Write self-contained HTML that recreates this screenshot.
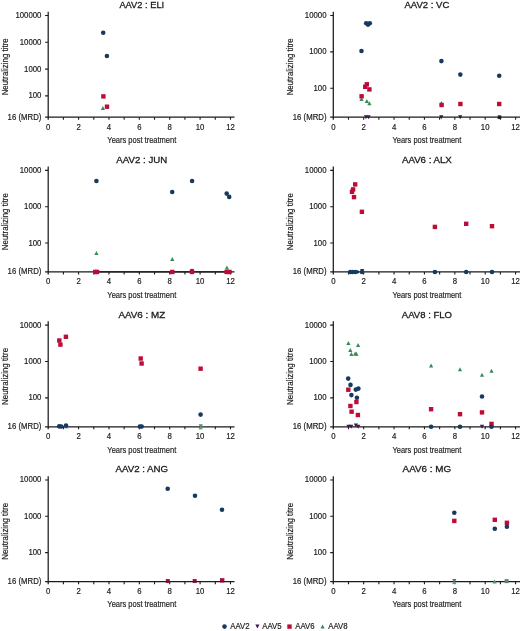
<!DOCTYPE html>
<html><head><meta charset="utf-8"><style>
html,body{margin:0;padding:0;background:#fff;}
body{width:520px;height:631px;overflow:hidden;}
svg{display:block;}
text{font-family:"Liberation Sans",sans-serif;fill:#1c1a1b;stroke:#1c1a1b;stroke-width:0.18px;}
svg{filter:blur(0.3px);}
.t{stroke-width:0.3px;}
</style></head><body>
<svg width="520" height="631" viewBox="0 0 520 631">
<text transform="translate(41.40 18.05) scale(0.94 1)" font-size="8.3" text-anchor="end" >100000</text>
<text transform="translate(41.40 44.82) scale(0.94 1)" font-size="8.3" text-anchor="end" >10000</text>
<text transform="translate(41.40 71.58) scale(0.94 1)" font-size="8.3" text-anchor="end" >1000</text>
<text transform="translate(41.40 98.35) scale(0.94 1)" font-size="8.3" text-anchor="end" >100</text>
<text transform="translate(41.40 119.65) scale(0.94 1)" font-size="8.3" text-anchor="end" >16 (MRD)</text>
<text transform="translate(48.20 129.65) scale(0.94 1)" font-size="8.3" text-anchor="middle" >0</text>
<text transform="translate(78.58 129.65) scale(0.94 1)" font-size="8.3" text-anchor="middle" >2</text>
<text transform="translate(108.96 129.65) scale(0.94 1)" font-size="8.3" text-anchor="middle" >4</text>
<text transform="translate(139.34 129.65) scale(0.94 1)" font-size="8.3" text-anchor="middle" >6</text>
<text transform="translate(169.72 129.65) scale(0.94 1)" font-size="8.3" text-anchor="middle" >8</text>
<text transform="translate(200.10 129.65) scale(0.94 1)" font-size="8.3" text-anchor="middle" >10</text>
<text transform="translate(230.48 129.65) scale(0.94 1)" font-size="8.3" text-anchor="middle" >12</text>
<text x="141.80" y="143.05" font-size="9.8" text-anchor="middle" textLength="68.9" lengthAdjust="spacingAndGlyphs">Years post treatment</text>
<text x="141.80" y="7.95" font-size="9.6" text-anchor="middle" class="t" textLength="44.80" lengthAdjust="spacingAndGlyphs">AAV2 : ELI</text>
<text x="0" y="0" font-size="9.2" text-anchor="middle" textLength="57" lengthAdjust="spacingAndGlyphs" transform="translate(8.10 66.85) rotate(-90)">Neutralizing titre</text>
<text transform="translate(326.50 18.05) scale(0.94 1)" font-size="8.3" text-anchor="end" >10000</text>
<text transform="translate(326.50 54.39) scale(0.94 1)" font-size="8.3" text-anchor="end" >1000</text>
<text transform="translate(326.50 90.73) scale(0.94 1)" font-size="8.3" text-anchor="end" >100</text>
<text transform="translate(326.50 119.65) scale(0.94 1)" font-size="8.3" text-anchor="end" >16 (MRD)</text>
<text transform="translate(333.30 129.65) scale(0.94 1)" font-size="8.3" text-anchor="middle" >0</text>
<text transform="translate(363.68 129.65) scale(0.94 1)" font-size="8.3" text-anchor="middle" >2</text>
<text transform="translate(394.06 129.65) scale(0.94 1)" font-size="8.3" text-anchor="middle" >4</text>
<text transform="translate(424.44 129.65) scale(0.94 1)" font-size="8.3" text-anchor="middle" >6</text>
<text transform="translate(454.82 129.65) scale(0.94 1)" font-size="8.3" text-anchor="middle" >8</text>
<text transform="translate(485.20 129.65) scale(0.94 1)" font-size="8.3" text-anchor="middle" >10</text>
<text transform="translate(515.58 129.65) scale(0.94 1)" font-size="8.3" text-anchor="middle" >12</text>
<text x="426.90" y="143.05" font-size="9.8" text-anchor="middle" textLength="68.9" lengthAdjust="spacingAndGlyphs">Years post treatment</text>
<text x="426.90" y="7.95" font-size="9.6" text-anchor="middle" class="t" textLength="44.90" lengthAdjust="spacingAndGlyphs">AAV2 : VC</text>
<text x="0" y="0" font-size="9.2" text-anchor="middle" textLength="57" lengthAdjust="spacingAndGlyphs" transform="translate(293.20 66.85) rotate(-90)">Neutralizing titre</text>
<text transform="translate(41.40 172.85) scale(0.94 1)" font-size="8.3" text-anchor="end" >10000</text>
<text transform="translate(41.40 209.19) scale(0.94 1)" font-size="8.3" text-anchor="end" >1000</text>
<text transform="translate(41.40 245.53) scale(0.94 1)" font-size="8.3" text-anchor="end" >100</text>
<text transform="translate(41.40 274.45) scale(0.94 1)" font-size="8.3" text-anchor="end" >16 (MRD)</text>
<text transform="translate(48.20 284.45) scale(0.94 1)" font-size="8.3" text-anchor="middle" >0</text>
<text transform="translate(78.58 284.45) scale(0.94 1)" font-size="8.3" text-anchor="middle" >2</text>
<text transform="translate(108.96 284.45) scale(0.94 1)" font-size="8.3" text-anchor="middle" >4</text>
<text transform="translate(139.34 284.45) scale(0.94 1)" font-size="8.3" text-anchor="middle" >6</text>
<text transform="translate(169.72 284.45) scale(0.94 1)" font-size="8.3" text-anchor="middle" >8</text>
<text transform="translate(200.10 284.45) scale(0.94 1)" font-size="8.3" text-anchor="middle" >10</text>
<text transform="translate(230.48 284.45) scale(0.94 1)" font-size="8.3" text-anchor="middle" >12</text>
<text x="141.80" y="297.85" font-size="9.8" text-anchor="middle" textLength="68.9" lengthAdjust="spacingAndGlyphs">Years post treatment</text>
<text x="141.80" y="162.75" font-size="9.6" text-anchor="middle" class="t" textLength="50.90" lengthAdjust="spacingAndGlyphs">AAV2 : JUN</text>
<text x="0" y="0" font-size="9.2" text-anchor="middle" textLength="57" lengthAdjust="spacingAndGlyphs" transform="translate(8.10 221.65) rotate(-90)">Neutralizing titre</text>
<text transform="translate(326.50 172.85) scale(0.94 1)" font-size="8.3" text-anchor="end" >10000</text>
<text transform="translate(326.50 209.19) scale(0.94 1)" font-size="8.3" text-anchor="end" >1000</text>
<text transform="translate(326.50 245.53) scale(0.94 1)" font-size="8.3" text-anchor="end" >100</text>
<text transform="translate(326.50 274.45) scale(0.94 1)" font-size="8.3" text-anchor="end" >16 (MRD)</text>
<text transform="translate(333.30 284.45) scale(0.94 1)" font-size="8.3" text-anchor="middle" >0</text>
<text transform="translate(363.68 284.45) scale(0.94 1)" font-size="8.3" text-anchor="middle" >2</text>
<text transform="translate(394.06 284.45) scale(0.94 1)" font-size="8.3" text-anchor="middle" >4</text>
<text transform="translate(424.44 284.45) scale(0.94 1)" font-size="8.3" text-anchor="middle" >6</text>
<text transform="translate(454.82 284.45) scale(0.94 1)" font-size="8.3" text-anchor="middle" >8</text>
<text transform="translate(485.20 284.45) scale(0.94 1)" font-size="8.3" text-anchor="middle" >10</text>
<text transform="translate(515.58 284.45) scale(0.94 1)" font-size="8.3" text-anchor="middle" >12</text>
<text x="426.90" y="297.85" font-size="9.8" text-anchor="middle" textLength="68.9" lengthAdjust="spacingAndGlyphs">Years post treatment</text>
<text x="426.90" y="162.75" font-size="9.6" text-anchor="middle" class="t" textLength="49.90" lengthAdjust="spacingAndGlyphs">AAV6 : ALX</text>
<text x="0" y="0" font-size="9.2" text-anchor="middle" textLength="57" lengthAdjust="spacingAndGlyphs" transform="translate(293.20 221.65) rotate(-90)">Neutralizing titre</text>
<text transform="translate(41.40 327.65) scale(0.94 1)" font-size="8.3" text-anchor="end" >10000</text>
<text transform="translate(41.40 363.99) scale(0.94 1)" font-size="8.3" text-anchor="end" >1000</text>
<text transform="translate(41.40 400.33) scale(0.94 1)" font-size="8.3" text-anchor="end" >100</text>
<text transform="translate(41.40 429.25) scale(0.94 1)" font-size="8.3" text-anchor="end" >16 (MRD)</text>
<text transform="translate(48.20 439.25) scale(0.94 1)" font-size="8.3" text-anchor="middle" >0</text>
<text transform="translate(78.58 439.25) scale(0.94 1)" font-size="8.3" text-anchor="middle" >2</text>
<text transform="translate(108.96 439.25) scale(0.94 1)" font-size="8.3" text-anchor="middle" >4</text>
<text transform="translate(139.34 439.25) scale(0.94 1)" font-size="8.3" text-anchor="middle" >6</text>
<text transform="translate(169.72 439.25) scale(0.94 1)" font-size="8.3" text-anchor="middle" >8</text>
<text transform="translate(200.10 439.25) scale(0.94 1)" font-size="8.3" text-anchor="middle" >10</text>
<text transform="translate(230.48 439.25) scale(0.94 1)" font-size="8.3" text-anchor="middle" >12</text>
<text x="141.80" y="452.65" font-size="9.8" text-anchor="middle" textLength="68.9" lengthAdjust="spacingAndGlyphs">Years post treatment</text>
<text x="141.80" y="317.55" font-size="9.6" text-anchor="middle" class="t" textLength="46.80" lengthAdjust="spacingAndGlyphs">AAV6 : MZ</text>
<text x="0" y="0" font-size="9.2" text-anchor="middle" textLength="57" lengthAdjust="spacingAndGlyphs" transform="translate(8.10 376.45) rotate(-90)">Neutralizing titre</text>
<text transform="translate(326.50 327.65) scale(0.94 1)" font-size="8.3" text-anchor="end" >10000</text>
<text transform="translate(326.50 363.99) scale(0.94 1)" font-size="8.3" text-anchor="end" >1000</text>
<text transform="translate(326.50 400.33) scale(0.94 1)" font-size="8.3" text-anchor="end" >100</text>
<text transform="translate(326.50 429.25) scale(0.94 1)" font-size="8.3" text-anchor="end" >16 (MRD)</text>
<text transform="translate(333.30 439.25) scale(0.94 1)" font-size="8.3" text-anchor="middle" >0</text>
<text transform="translate(363.68 439.25) scale(0.94 1)" font-size="8.3" text-anchor="middle" >2</text>
<text transform="translate(394.06 439.25) scale(0.94 1)" font-size="8.3" text-anchor="middle" >4</text>
<text transform="translate(424.44 439.25) scale(0.94 1)" font-size="8.3" text-anchor="middle" >6</text>
<text transform="translate(454.82 439.25) scale(0.94 1)" font-size="8.3" text-anchor="middle" >8</text>
<text transform="translate(485.20 439.25) scale(0.94 1)" font-size="8.3" text-anchor="middle" >10</text>
<text transform="translate(515.58 439.25) scale(0.94 1)" font-size="8.3" text-anchor="middle" >12</text>
<text x="426.90" y="452.65" font-size="9.8" text-anchor="middle" textLength="68.9" lengthAdjust="spacingAndGlyphs">Years post treatment</text>
<text x="426.90" y="317.55" font-size="9.6" text-anchor="middle" class="t" textLength="50.10" lengthAdjust="spacingAndGlyphs">AAV8 : FLO</text>
<text x="0" y="0" font-size="9.2" text-anchor="middle" textLength="57" lengthAdjust="spacingAndGlyphs" transform="translate(293.20 376.45) rotate(-90)">Neutralizing titre</text>
<text transform="translate(41.40 482.45) scale(0.94 1)" font-size="8.3" text-anchor="end" >10000</text>
<text transform="translate(41.40 518.79) scale(0.94 1)" font-size="8.3" text-anchor="end" >1000</text>
<text transform="translate(41.40 555.13) scale(0.94 1)" font-size="8.3" text-anchor="end" >100</text>
<text transform="translate(41.40 584.05) scale(0.94 1)" font-size="8.3" text-anchor="end" >16 (MRD)</text>
<text transform="translate(48.20 594.05) scale(0.94 1)" font-size="8.3" text-anchor="middle" >0</text>
<text transform="translate(78.58 594.05) scale(0.94 1)" font-size="8.3" text-anchor="middle" >2</text>
<text transform="translate(108.96 594.05) scale(0.94 1)" font-size="8.3" text-anchor="middle" >4</text>
<text transform="translate(139.34 594.05) scale(0.94 1)" font-size="8.3" text-anchor="middle" >6</text>
<text transform="translate(169.72 594.05) scale(0.94 1)" font-size="8.3" text-anchor="middle" >8</text>
<text transform="translate(200.10 594.05) scale(0.94 1)" font-size="8.3" text-anchor="middle" >10</text>
<text transform="translate(230.48 594.05) scale(0.94 1)" font-size="8.3" text-anchor="middle" >12</text>
<text x="141.80" y="607.45" font-size="9.8" text-anchor="middle" textLength="68.9" lengthAdjust="spacingAndGlyphs">Years post treatment</text>
<text x="141.80" y="472.35" font-size="9.6" text-anchor="middle" class="t" textLength="52.70" lengthAdjust="spacingAndGlyphs">AAV2 : ANG</text>
<text x="0" y="0" font-size="9.2" text-anchor="middle" textLength="57" lengthAdjust="spacingAndGlyphs" transform="translate(8.10 531.25) rotate(-90)">Neutralizing titre</text>
<text transform="translate(326.50 482.45) scale(0.94 1)" font-size="8.3" text-anchor="end" >10000</text>
<text transform="translate(326.50 518.79) scale(0.94 1)" font-size="8.3" text-anchor="end" >1000</text>
<text transform="translate(326.50 555.13) scale(0.94 1)" font-size="8.3" text-anchor="end" >100</text>
<text transform="translate(326.50 584.05) scale(0.94 1)" font-size="8.3" text-anchor="end" >16 (MRD)</text>
<text transform="translate(333.30 594.05) scale(0.94 1)" font-size="8.3" text-anchor="middle" >0</text>
<text transform="translate(363.68 594.05) scale(0.94 1)" font-size="8.3" text-anchor="middle" >2</text>
<text transform="translate(394.06 594.05) scale(0.94 1)" font-size="8.3" text-anchor="middle" >4</text>
<text transform="translate(424.44 594.05) scale(0.94 1)" font-size="8.3" text-anchor="middle" >6</text>
<text transform="translate(454.82 594.05) scale(0.94 1)" font-size="8.3" text-anchor="middle" >8</text>
<text transform="translate(485.20 594.05) scale(0.94 1)" font-size="8.3" text-anchor="middle" >10</text>
<text transform="translate(515.58 594.05) scale(0.94 1)" font-size="8.3" text-anchor="middle" >12</text>
<text x="426.90" y="607.45" font-size="9.8" text-anchor="middle" textLength="68.9" lengthAdjust="spacingAndGlyphs">Years post treatment</text>
<text x="426.90" y="472.35" font-size="9.6" text-anchor="middle" class="t" textLength="48.60" lengthAdjust="spacingAndGlyphs">AAV6 : MG</text>
<text x="0" y="0" font-size="9.2" text-anchor="middle" textLength="57" lengthAdjust="spacingAndGlyphs" transform="translate(293.20 531.25) rotate(-90)">Neutralizing titre</text>
<text transform="translate(230.20 629.20) scale(0.94 1)" font-size="8.3" text-anchor="start" >AAV2</text>
<text transform="translate(262.20 629.20) scale(0.94 1)" font-size="8.3" text-anchor="start" >AAV5</text>
<text transform="translate(295.20 629.20) scale(0.94 1)" font-size="8.3" text-anchor="start" >AAV6</text>
<text transform="translate(328.20 629.20) scale(0.94 1)" font-size="8.3" text-anchor="start" >AAV8</text>
<path d="M48.20 11.75V119.75M45.10 117.15H234.50" stroke="#1c1a1b" stroke-width="1.25" fill="none"/>
<path d="M63.39 117.15v2.6 M78.58 117.15v2.6 M93.77 117.15v2.6 M108.96 117.15v2.6 M124.15 117.15v2.6 M139.34 117.15v2.6 M154.53 117.15v2.6 M169.72 117.15v2.6 M184.91 117.15v2.6 M200.10 117.15v2.6 M215.29 117.15v2.6 M230.48 117.15v2.6 M45.10 15.55h3.1 M45.10 42.32h3.1 M45.10 69.08h3.1 M45.10 95.85h3.1" stroke="#1c1a1b" stroke-width="1.1" fill="none"/>
<path d="M333.30 11.75V119.75M330.20 117.15H520.00" stroke="#1c1a1b" stroke-width="1.25" fill="none"/>
<path d="M348.49 117.15v2.6 M363.68 117.15v2.6 M378.87 117.15v2.6 M394.06 117.15v2.6 M409.25 117.15v2.6 M424.44 117.15v2.6 M439.63 117.15v2.6 M454.82 117.15v2.6 M470.01 117.15v2.6 M485.20 117.15v2.6 M500.39 117.15v2.6 M515.58 117.15v2.6 M330.20 15.55h3.1 M330.20 51.89h3.1 M330.20 88.23h3.1" stroke="#1c1a1b" stroke-width="1.1" fill="none"/>
<path d="M48.20 166.55V274.55M45.10 271.95H234.50" stroke="#1c1a1b" stroke-width="1.25" fill="none"/>
<path d="M63.39 271.95v2.6 M78.58 271.95v2.6 M93.77 271.95v2.6 M108.96 271.95v2.6 M124.15 271.95v2.6 M139.34 271.95v2.6 M154.53 271.95v2.6 M169.72 271.95v2.6 M184.91 271.95v2.6 M200.10 271.95v2.6 M215.29 271.95v2.6 M230.48 271.95v2.6 M45.10 170.35h3.1 M45.10 206.69h3.1 M45.10 243.03h3.1" stroke="#1c1a1b" stroke-width="1.1" fill="none"/>
<path d="M333.30 166.55V274.55M330.20 271.95H520.00" stroke="#1c1a1b" stroke-width="1.25" fill="none"/>
<path d="M348.49 271.95v2.6 M363.68 271.95v2.6 M378.87 271.95v2.6 M394.06 271.95v2.6 M409.25 271.95v2.6 M424.44 271.95v2.6 M439.63 271.95v2.6 M454.82 271.95v2.6 M470.01 271.95v2.6 M485.20 271.95v2.6 M500.39 271.95v2.6 M515.58 271.95v2.6 M330.20 170.35h3.1 M330.20 206.69h3.1 M330.20 243.03h3.1" stroke="#1c1a1b" stroke-width="1.1" fill="none"/>
<path d="M48.20 321.35V429.35M45.10 426.75H234.50" stroke="#1c1a1b" stroke-width="1.25" fill="none"/>
<path d="M63.39 426.75v2.6 M78.58 426.75v2.6 M93.77 426.75v2.6 M108.96 426.75v2.6 M124.15 426.75v2.6 M139.34 426.75v2.6 M154.53 426.75v2.6 M169.72 426.75v2.6 M184.91 426.75v2.6 M200.10 426.75v2.6 M215.29 426.75v2.6 M230.48 426.75v2.6 M45.10 325.15h3.1 M45.10 361.49h3.1 M45.10 397.83h3.1" stroke="#1c1a1b" stroke-width="1.1" fill="none"/>
<path d="M333.30 321.35V429.35M330.20 426.75H520.00" stroke="#1c1a1b" stroke-width="1.25" fill="none"/>
<path d="M348.49 426.75v2.6 M363.68 426.75v2.6 M378.87 426.75v2.6 M394.06 426.75v2.6 M409.25 426.75v2.6 M424.44 426.75v2.6 M439.63 426.75v2.6 M454.82 426.75v2.6 M470.01 426.75v2.6 M485.20 426.75v2.6 M500.39 426.75v2.6 M515.58 426.75v2.6 M330.20 325.15h3.1 M330.20 361.49h3.1 M330.20 397.83h3.1" stroke="#1c1a1b" stroke-width="1.1" fill="none"/>
<path d="M48.20 476.15V584.15M45.10 581.55H234.50" stroke="#1c1a1b" stroke-width="1.25" fill="none"/>
<path d="M63.39 581.55v2.6 M78.58 581.55v2.6 M93.77 581.55v2.6 M108.96 581.55v2.6 M124.15 581.55v2.6 M139.34 581.55v2.6 M154.53 581.55v2.6 M169.72 581.55v2.6 M184.91 581.55v2.6 M200.10 581.55v2.6 M215.29 581.55v2.6 M230.48 581.55v2.6 M45.10 479.95h3.1 M45.10 516.29h3.1 M45.10 552.63h3.1" stroke="#1c1a1b" stroke-width="1.1" fill="none"/>
<path d="M333.30 476.15V584.15M330.20 581.55H520.00" stroke="#1c1a1b" stroke-width="1.25" fill="none"/>
<path d="M348.49 581.55v2.6 M363.68 581.55v2.6 M378.87 581.55v2.6 M394.06 581.55v2.6 M409.25 581.55v2.6 M424.44 581.55v2.6 M439.63 581.55v2.6 M454.82 581.55v2.6 M470.01 581.55v2.6 M485.20 581.55v2.6 M500.39 581.55v2.6 M515.58 581.55v2.6 M330.20 479.95h3.1 M330.20 516.29h3.1 M330.20 552.63h3.1" stroke="#1c1a1b" stroke-width="1.1" fill="none"/>
<path d="M100.80 109.90L102.90 105.90L105.00 109.90Z" fill="#338d56"/>
<path d="M359.40 101.00L361.50 97.00L363.60 101.00Z" fill="#338d56"/>
<path d="M364.70 103.00L366.80 99.00L368.90 103.00Z" fill="#338d56"/>
<path d="M367.30 105.30L369.40 101.30L371.50 105.30Z" fill="#338d56"/>
<path d="M439.30 105.00L441.40 101.00L443.50 105.00Z" fill="#338d56"/>
<circle cx="192.0" cy="271.15" r="2.3" fill="#173a5e"/>
<path d="M94 271.95H232" stroke="#1c1a1b" stroke-width="1.2"/>
<path d="M94.30 255.00L96.40 251.00L98.50 255.00Z" fill="#338d56"/>
<path d="M170.20 261.00L172.30 257.00L174.40 261.00Z" fill="#338d56"/>
<path d="M224.80 269.60L226.90 265.60L229.00 269.60Z" fill="#338d56"/>
<path d="M64.10 428.25L66.20 424.25L68.30 428.25Z" fill="#2f7a60"/>
<path d="M198.70 429.15L200.80 425.15L202.90 429.15Z" fill="#6a9e7c"/>
<path d="M346.30 345.10L348.40 341.10L350.50 345.10Z" fill="#338d56"/>
<path d="M356.00 347.10L358.10 343.10L360.20 347.10Z" fill="#338d56"/>
<path d="M348.20 352.10L350.30 348.10L352.40 352.10Z" fill="#338d56"/>
<path d="M349.30 356.00L351.40 352.00L353.50 356.00Z" fill="#338d56"/>
<path d="M354.30 355.80L356.40 351.80L358.50 355.80Z" fill="#338d56"/>
<path d="M353.10 355.40L355.20 351.40L357.30 355.40Z" fill="#338d56"/>
<path d="M429.00 367.50L431.10 363.50L433.20 367.50Z" fill="#338d56"/>
<path d="M457.90 371.30L460.00 367.30L462.10 371.30Z" fill="#338d56"/>
<path d="M479.90 376.70L482.00 372.70L484.10 376.70Z" fill="#338d56"/>
<path d="M489.40 372.80L491.50 368.80L493.60 372.80Z" fill="#338d56"/>
<path d="M452.20 583.95L454.30 579.95L456.40 583.95Z" fill="#6a9e7c"/>
<path d="M492.50 583.55L494.60 579.55L496.70 583.55Z" fill="#4f9a62"/>
<path d="M320.50 628.60L322.60 624.60L324.70 628.60Z" fill="#338d56"/>
<rect x="101.20" y="94.20" width="4.4" height="4.4" fill="#bd0c38"/>
<rect x="104.80" y="104.50" width="4.4" height="4.4" fill="#bd0c38"/>
<rect x="497.70" y="115.35" width="3.6" height="3.6" fill="#1e1e22"/>
<rect x="364.60" y="82.10" width="4.4" height="4.4" fill="#bd0c38"/>
<rect x="363.00" y="84.60" width="4.4" height="4.4" fill="#bd0c38"/>
<rect x="367.20" y="87.20" width="4.4" height="4.4" fill="#bd0c38"/>
<rect x="359.40" y="94.10" width="4.4" height="4.4" fill="#bd0c38"/>
<rect x="439.40" y="102.80" width="4.4" height="4.4" fill="#bd0c38"/>
<rect x="458.20" y="101.80" width="4.4" height="4.4" fill="#bd0c38"/>
<rect x="497.00" y="101.80" width="4.4" height="4.4" fill="#bd0c38"/>
<rect x="93.00" y="269.75" width="4.4" height="4.4" fill="#bd0c38"/>
<rect x="94.80" y="269.75" width="4.4" height="4.4" fill="#bd0c38"/>
<rect x="170.10" y="269.75" width="4.4" height="4.4" fill="#bd0c38"/>
<rect x="189.80" y="269.75" width="4.4" height="4.4" fill="#bd0c38"/>
<rect x="224.40" y="269.75" width="4.4" height="4.4" fill="#bd0c38"/>
<rect x="227.20" y="269.75" width="4.4" height="4.4" fill="#bd0c38"/>
<rect x="353.00" y="182.20" width="4.4" height="4.4" fill="#bd0c38"/>
<rect x="350.90" y="187.20" width="4.4" height="4.4" fill="#bd0c38"/>
<rect x="349.80" y="189.60" width="4.4" height="4.4" fill="#bd0c38"/>
<rect x="351.80" y="194.90" width="4.4" height="4.4" fill="#bd0c38"/>
<rect x="359.70" y="209.60" width="4.4" height="4.4" fill="#bd0c38"/>
<rect x="432.70" y="224.70" width="4.4" height="4.4" fill="#bd0c38"/>
<rect x="464.00" y="221.60" width="4.4" height="4.4" fill="#bd0c38"/>
<rect x="489.80" y="224.00" width="4.4" height="4.4" fill="#bd0c38"/>
<rect x="63.70" y="334.60" width="4.4" height="4.4" fill="#bd0c38"/>
<rect x="57.10" y="338.30" width="4.4" height="4.4" fill="#bd0c38"/>
<rect x="58.20" y="342.40" width="4.4" height="4.4" fill="#bd0c38"/>
<rect x="138.50" y="356.30" width="4.4" height="4.4" fill="#bd0c38"/>
<rect x="139.40" y="361.30" width="4.4" height="4.4" fill="#bd0c38"/>
<rect x="198.40" y="366.50" width="4.4" height="4.4" fill="#bd0c38"/>
<rect x="346.10" y="387.50" width="4.4" height="4.4" fill="#bd0c38"/>
<rect x="354.20" y="399.80" width="4.4" height="4.4" fill="#bd0c38"/>
<rect x="348.20" y="403.80" width="4.4" height="4.4" fill="#bd0c38"/>
<rect x="349.40" y="409.50" width="4.4" height="4.4" fill="#bd0c38"/>
<rect x="355.70" y="412.80" width="4.4" height="4.4" fill="#bd0c38"/>
<rect x="428.90" y="407.00" width="4.4" height="4.4" fill="#bd0c38"/>
<rect x="457.80" y="412.00" width="4.4" height="4.4" fill="#bd0c38"/>
<rect x="479.80" y="410.20" width="4.4" height="4.4" fill="#bd0c38"/>
<rect x="489.30" y="421.70" width="4.4" height="4.4" fill="#bd0c38"/>
<rect x="165.80" y="579.05" width="4.0" height="4.0" fill="#8e1744"/>
<rect x="192.70" y="579.05" width="4.0" height="4.0" fill="#8e1744"/>
<rect x="220.00" y="578.15" width="4.4" height="4.4" fill="#a3123c"/>
<rect x="504.60" y="579.15" width="4.0" height="4.0" fill="#5f8270"/>
<rect x="452.10" y="518.70" width="4.4" height="4.4" fill="#bd0c38"/>
<rect x="492.60" y="517.60" width="4.4" height="4.4" fill="#bd0c38"/>
<rect x="504.70" y="520.60" width="4.4" height="4.4" fill="#bd0c38"/>
<rect x="287.30" y="624.40" width="4.4" height="4.4" fill="#bd0c38"/>
<path d="M363.90 115.15L366.00 119.15L368.10 115.15Z" fill="#421650"/>
<path d="M366.50 115.15L368.60 119.15L370.70 115.15Z" fill="#421650"/>
<path d="M439.20 115.15L441.30 119.15L443.40 115.15Z" fill="#2e1a34"/>
<path d="M458.10 115.15L460.20 119.15L462.30 115.15Z" fill="#2e1a34"/>
<path d="M360.10 268.95L362.20 272.95L364.30 268.95Z" fill="#173a5e"/>
<path d="M198.70 424.15L200.80 428.15L202.90 424.15Z" fill="#5a8a6c"/>
<path d="M346.40 424.75L348.50 428.75L350.60 424.75Z" fill="#421650"/>
<path d="M349.10 424.75L351.20 428.75L353.30 424.75Z" fill="#421650"/>
<path d="M353.80 423.55L355.90 427.55L358.00 423.55Z" fill="#421650"/>
<path d="M356.10 424.75L358.20 428.75L360.30 424.75Z" fill="#421650"/>
<path d="M479.90 424.75L482.00 428.75L484.10 424.75Z" fill="#421650"/>
<path d="M160 581.55H230" stroke="#2a1a22" stroke-width="1.1" opacity="0.6"/>
<path d="M452.20 578.95L454.30 582.95L456.40 578.95Z" fill="#4f7d62"/>
<path d="M255.30 624.60L257.40 628.60L259.50 624.60Z" fill="#421650"/>
<circle cx="103.20" cy="32.80" r="2.3" fill="#173a5e"/>
<circle cx="106.90" cy="56.00" r="2.3" fill="#173a5e"/>
<circle cx="366.20" cy="23.30" r="2.3" fill="#173a5e"/>
<circle cx="369.80" cy="23.30" r="2.3" fill="#173a5e"/>
<circle cx="368.00" cy="24.60" r="2.3" fill="#173a5e"/>
<circle cx="361.50" cy="51.00" r="2.3" fill="#173a5e"/>
<circle cx="441.40" cy="61.10" r="2.3" fill="#173a5e"/>
<circle cx="460.30" cy="74.60" r="2.3" fill="#173a5e"/>
<circle cx="499.20" cy="75.80" r="2.3" fill="#173a5e"/>
<circle cx="96.40" cy="181.00" r="2.3" fill="#173a5e"/>
<circle cx="172.20" cy="192.00" r="2.3" fill="#173a5e"/>
<circle cx="192.10" cy="181.00" r="2.3" fill="#173a5e"/>
<circle cx="226.70" cy="193.60" r="2.3" fill="#173a5e"/>
<circle cx="229.20" cy="196.90" r="2.3" fill="#173a5e"/>
<circle cx="350.20" cy="271.95" r="2.3" fill="#173a5e"/>
<circle cx="352.60" cy="271.95" r="2.3" fill="#173a5e"/>
<circle cx="355.40" cy="271.95" r="2.3" fill="#173a5e"/>
<circle cx="357.60" cy="271.95" r="1.6" fill="#173a5e"/>
<circle cx="362.00" cy="271.95" r="2.3" fill="#173a5e"/>
<circle cx="434.90" cy="271.95" r="2.3" fill="#173a5e"/>
<circle cx="466.20" cy="271.95" r="2.3" fill="#173a5e"/>
<circle cx="492.00" cy="271.95" r="2.3" fill="#173a5e"/>
<circle cx="59.20" cy="426.35" r="2.3" fill="#173a5e"/>
<circle cx="61.20" cy="426.45" r="2.3" fill="#173a5e"/>
<circle cx="66.00" cy="425.45" r="2.3" fill="#173a5e"/>
<circle cx="139.90" cy="426.55" r="2.3" fill="#173a5e"/>
<circle cx="141.70" cy="426.55" r="2.3" fill="#173a5e"/>
<circle cx="200.60" cy="414.60" r="2.3" fill="#173a5e"/>
<circle cx="348.20" cy="378.60" r="2.3" fill="#173a5e"/>
<circle cx="350.50" cy="384.90" r="2.3" fill="#173a5e"/>
<circle cx="355.80" cy="389.60" r="2.3" fill="#173a5e"/>
<circle cx="358.40" cy="388.60" r="2.3" fill="#173a5e"/>
<circle cx="351.40" cy="395.10" r="2.3" fill="#173a5e"/>
<circle cx="356.90" cy="397.80" r="2.3" fill="#173a5e"/>
<circle cx="482.00" cy="396.50" r="2.3" fill="#173a5e"/>
<circle cx="431.10" cy="426.75" r="2.3" fill="#173a5e"/>
<circle cx="460.00" cy="426.75" r="2.3" fill="#173a5e"/>
<circle cx="491.50" cy="426.75" r="2.3" fill="#173a5e"/>
<circle cx="167.70" cy="488.80" r="2.3" fill="#173a5e"/>
<circle cx="195.00" cy="495.80" r="2.3" fill="#173a5e"/>
<circle cx="222.00" cy="509.80" r="2.3" fill="#173a5e"/>
<circle cx="454.30" cy="512.80" r="2.3" fill="#173a5e"/>
<circle cx="494.80" cy="528.80" r="2.3" fill="#173a5e"/>
<circle cx="506.90" cy="526.80" r="2.3" fill="#173a5e"/>
<circle cx="224.50" cy="626.60" r="2.3" fill="#173a5e"/>
</svg>
</body></html>
